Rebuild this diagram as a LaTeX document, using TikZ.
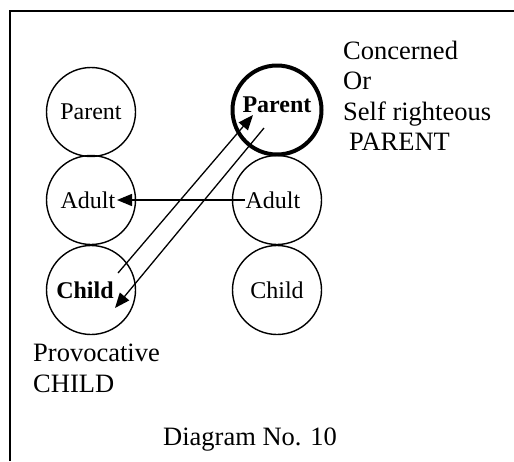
\documentclass[tikz,border=0pt]{standalone}
\usepackage{fontspec}
\setmainfont{Liberation Serif}
\usetikzlibrary{arrows.meta,calc}

\tikzset{
  ego/.style={circle, draw, line width=1.4pt, minimum size=89pt, inner sep=0pt,
              font=\fontsize{24}{28}\selectfont},
  egobold/.style={ego, line width=4pt, font=\fontsize{24}{28}\selectfont\bfseries},
  note/.style={anchor=base west, inner sep=0pt, font=\fontsize{26.5}{30}\selectfont},
  arr/.style={line width=1.3pt, -{Triangle[length=15pt,width=12pt]}},
  frame/.style={line width=1.6pt}
}

\begin{document}
\begin{tikzpicture}[x=1pt, y=-1pt]
  \useasboundingbox (0,0) rectangle (514,461);

  % outer frame, open towards the right and bottom edges
  \draw[frame] (10,461) -- (10,11) -- (514,11);

  % left ego states
  \node[ego] (pl) at (91,112) {Parent};
  \node[ego] (al) at (91,200) {\hspace*{-6pt}Adult};
  \node[ego] (cl) at (91,290) {\hspace*{-12pt}\textbf{Child}};

  % right ego states
  \node[egobold] (pr) at (277,110) {\raisebox{11pt}{Parent}};
  \node[ego] (ar) at (277,200) {\hspace*{-8pt}Adult};
  \node[ego] (cr) at (277,290) {Child};

  % transaction end points
  \coordinate (h1) at ($(ar)+(-32,0)$);
  \coordinate (h2) at ($(al)+(26,0)$);
  \coordinate (u1) at ($(cl)+(27,-17)$);
  \coordinate (u2) at ($(pr)+(-24,5)$);
  \coordinate (d1) at ($(pr)+(-13,18)$);
  \coordinate (d2) at ($(cl)+(24,18)$);

  \draw[arr] (h1) -- (h2);
  \draw[arr] (u1) -- (u2);
  \draw[arr] (d1) -- (d2);

  % annotations
  \node[note] (n1) at (343,59) {Concerned};
  \node[note] (n2) at (343,89) {Or};
  \node[note] (n3) at (343,120) {Self righteous};
  \node[note] (n4) at (349,150.5) {PARENT};

  \node[note] (p1) at (33,361.5) {Provocative};
  \node[note] (p2) at (33,392) {CHILD};

  \node[note] (cap) at (163,445) {Diagram No. 10};
\end{tikzpicture}
\end{document}
